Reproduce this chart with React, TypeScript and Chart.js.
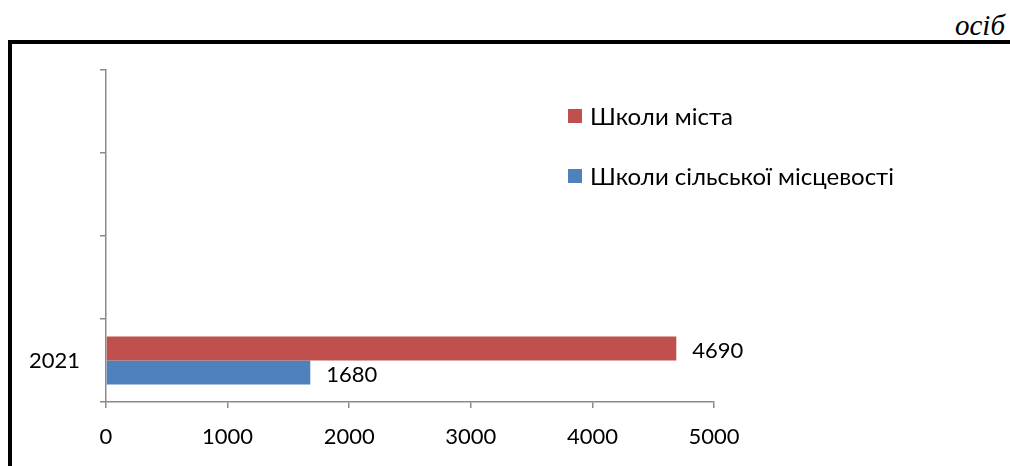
import React, { useEffect, useRef } from "react";
import { Chart, registerables } from "chart.js";

Chart.register(...registerables);

const categories = ["", "", "", "2021"];
const cityLabel = "Школи міста";
const ruralLabel = "Школи сільської місцевості";
const cityValues = [null, null, null, 4690];
const ruralValues = [null, null, null, 1680];
const xTicks = [0, 1000, 2000, 3000, 4000, 5000];
const unitLabel = "осіб";

const FONT = "Lato, 'Open Sans', sans-serif";

const valueLabels = {
  id: "valueLabels",
  afterDatasetsDraw(chart: any) {
    const ctx = chart.ctx;
    ctx.save();
    ctx.font = `22px ${FONT}`;
    ctx.fillStyle = "#000";
    ctx.textAlign = "left";
    ctx.textBaseline = "middle";
    chart.data.datasets.forEach((ds: any, di: number) => {
      const meta = chart.getDatasetMeta(di);
      meta.data.forEach((bar: any, i: number) => {
        const v = ds.data[i];
        if (v === null || v === undefined) return;
        ctx.fillText(String(v), bar.x + 16, bar.y + 2);
      });
    });
    ctx.restore();
  },
};

const boxLegend = {
  id: "boxLegend",
  afterDraw(chart: any) {
    const ctx = chart.ctx;
    ctx.save();
    ctx.font = `24px ${FONT}`;
    ctx.textAlign = "left";
    ctx.textBaseline = "middle";
    const x = 568;
    const ys = [116, 176];
    chart.data.datasets.forEach((ds: any, i: number) => {
      const y = ys[i];
      ctx.fillStyle = ds.backgroundColor;
      ctx.fillRect(x, y - 7, 14, 14);
      ctx.fillStyle = "#000";
      ctx.fillText(ds.label, x + 22, y + 1);
    });
    ctx.restore();
  },
};

export default function App() {
  const ref = useRef<HTMLCanvasElement>(null);
  useEffect(() => {
    if (!ref.current) return;
    const axisColor = "#8a8a8a";
    const chart = new Chart(ref.current, {
      type: "bar",
      data: {
        labels: categories,
        datasets: [
          {
            label: cityLabel,
            data: cityValues,
            backgroundColor: "#C0504D",
            categoryPercentage: 0.58,
            barPercentage: 1,
          },
          {
            label: ruralLabel,
            data: ruralValues,
            backgroundColor: "#4F81BD",
            categoryPercentage: 0.58,
            barPercentage: 1,
          },
        ],
      },
      options: {
        indexAxis: "y",
        animation: false,
        responsive: false,
        maintainAspectRatio: false,
        layout: { padding: { left: 0, right: 296, top: 70, bottom: 0 } },
        plugins: {
          legend: { display: false },
          tooltip: { enabled: false },
          title: { display: false },
        },
        scales: {
          x: {
            min: 0,
            max: 5000,
            afterBuildTicks(scale: any) {
              scale.ticks = xTicks.map((v) => ({ value: v }));
            },
            afterFit(scale: any) {
              scale.height = 64;
            },
            grid: {
              drawOnChartArea: false,
              drawTicks: true,
              tickLength: 6,
              color: axisColor,
              lineWidth: 1.5,
            },
            border: { display: true, color: axisColor, width: 1.5 },
            ticks: {
              color: "#000",
              font: { family: FONT, size: 22 },
              padding: 16,
              maxRotation: 0,
              callback: (v: any) => String(v),
            },
          },
          y: {
            type: "category",
            offset: true,
            afterFit(scale: any) {
              scale.width = 106;
            },
            grid: {
              offset: true,
              drawOnChartArea: false,
              drawTicks: true,
              tickLength: 6,
              color: axisColor,
              lineWidth: 1.5,
            },
            border: { display: true, color: axisColor, width: 1.5 },
            ticks: {
              color: "#000",
              font: { family: FONT, size: 22 },
              padding: 20,
            },
          },
        },
      },
      plugins: [valueLabels, boxLegend],
    });
    return () => chart.destroy();
  }, []);

  return (
    <div
      style={{
        position: "fixed",
        left: 0,
        top: 0,
        width: 1010,
        height: 466,
        overflow: "hidden",
        background: "#fff",
      }}
    >
      <div
        style={{
          position: "absolute",
          right: 5,
          top: 9,
          fontFamily: "'Liberation Serif', 'Times New Roman', serif",
          fontStyle: "italic",
          fontSize: 29,
          lineHeight: "32px",
          color: "#000",
        }}
      >
        {unitLabel}
      </div>
      <div
        style={{
          position: "absolute",
          left: 8,
          top: 40,
          width: 1100,
          height: 500,
          border: "4px solid #000",
          boxSizing: "border-box",
        }}
      />
      <canvas
        ref={ref}
        width={1010}
        height={466}
        style={{ position: "absolute", left: 0, top: 0, width: 1010, height: 466 }}
      />
    </div>
  );
}
